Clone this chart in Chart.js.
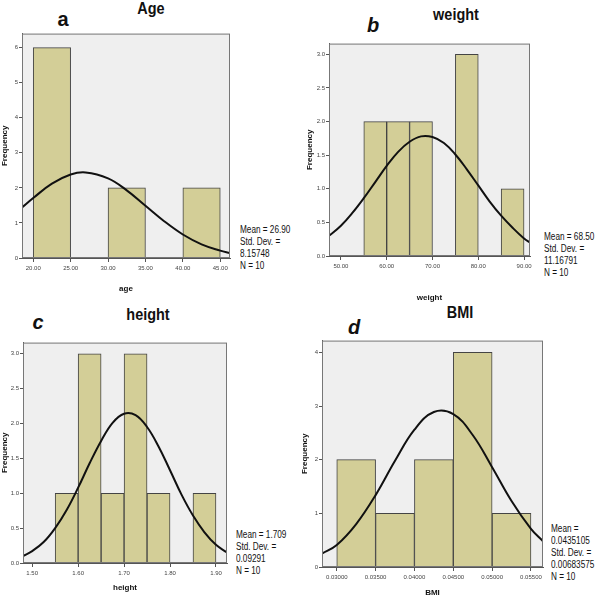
<!DOCTYPE html>
<html>
<head>
<meta charset="utf-8">
<script src="https://cdn.jsdelivr.net/npm/chart.js@4"></script>
<style>
  body { margin: 0; background: #fff; width: 600px; height: 598px; position: relative; overflow: hidden; }
  canvas { position: absolute; }
  .ttl { position: absolute; font: bold 17px "Liberation Sans", sans-serif; transform: translate(-50%, -50%) scaleX(0.85); color: #111; }
  .let { position: absolute; font: italic bold 20px "Liberation Sans", sans-serif; transform: translate(-50%, -50%); color: #111; }
  .stats { position: absolute; font: 10px/12px "Liberation Sans", sans-serif; color: #111; white-space: nowrap; transform: scaleX(0.82); transform-origin: left top; }
</style>
</head>
<body>
<div class="ttl" style="left:151px;top:9px">Age</div>
<div class="let" style="left:63px;top:19px;font-style:normal">a</div>
<div class="ttl" style="left:456px;top:15px">weight</div>
<div class="let" style="left:373px;top:25px">b</div>
<div class="ttl" style="left:148px;top:315px">height</div>
<div class="let" style="left:38px;top:322px">c</div>
<div class="ttl" style="left:460px;top:313px">BMI</div>
<div class="let" style="left:354px;top:327px">d</div>

<div class="stats" style="left:240px;top:224px">Mean = 26.90<br>Std. Dev. =<br>8.15748<br>N = 10</div>
<div class="stats" style="left:544px;top:231px">Mean = 68.50<br>Std. Dev. =<br>11.16791<br>N = 10</div>
<div class="stats" style="left:236px;top:529px">Mean = 1.709<br>Std. Dev. =<br>0.09291<br>N = 10</div>
<div class="stats" style="left:551px;top:523px">Mean =<br>0.0435105<br>Std. Dev. =<br>0.00683575<br>N = 10</div>

<canvas id="age" width="238" height="265" style="left:0px;top:29px"></canvas>
<canvas id="weight" width="235" height="264" style="left:305px;top:39px"></canvas>
<canvas id="height" width="237" height="255" style="left:0px;top:338px"></canvas>
<canvas id="bmi" width="253" height="262" style="left:300px;top:336px"></canvas>

<script>
// histogram bins (midpoints) and counts, plus normal curve
const ageBins = [22.5, 27.5, 32.5, 37.5, 42.5];
const ageCounts = [6, 0, 2, 0, 2];
const ageCurveX = [18.5, 20, 22.5, 25, 27, 30, 32.5, 35, 37.5, 40, 42.5, 45, 46.3];
const ageCurveY = [1.44, 1.71, 2.12, 2.38, 2.44, 2.27, 1.93, 1.49, 1.05, 0.67, 0.39, 0.21, 0.14];

const weightBins = [57.5, 62.5, 67.5, 72.5, 77.5, 82.5, 87.5];
const weightCounts = [2, 2, 2, 0, 3, 0, 1];
const weightCurveX = [47.4, 50, 52.5, 55, 57.5, 60, 62.5, 65, 67.5, 70, 72.5, 75, 77.5, 80, 82.5, 85, 87.5, 90, 91.3];
const weightCurveY = [0.30, 0.45, 0.64, 0.86, 1.10, 1.34, 1.55, 1.70, 1.78, 1.77, 1.68, 1.51, 1.29, 1.05, 0.81, 0.60, 0.42, 0.26, 0.20];

const heightBins = [1.575, 1.625, 1.675, 1.725, 1.775, 1.825, 1.875];
const heightCounts = [1, 3, 1, 3, 1, 0, 1];
const heightCurveX = [1.48, 1.50, 1.525, 1.55, 1.575, 1.60, 1.625, 1.65, 1.675, 1.70, 1.725, 1.75, 1.775, 1.80, 1.825, 1.85, 1.875, 1.90, 1.924];
const heightCurveY = [0.10, 0.17, 0.30, 0.50, 0.76, 1.08, 1.43, 1.75, 2.01, 2.14, 2.12, 1.95, 1.67, 1.33, 0.98, 0.68, 0.44, 0.26, 0.15];

const bmiBins = [0.0325, 0.0375, 0.0425, 0.0475, 0.0525];
const bmiCounts = [2, 1, 2, 4, 1];
const bmiCurveX = [0.0281, 0.030, 0.0325, 0.035, 0.0375, 0.040, 0.0425, 0.045, 0.0475, 0.050, 0.0525, 0.055, 0.05655];
const bmiCurveY = [0.25, 0.41, 0.80, 1.34, 1.98, 2.56, 2.89, 2.85, 2.46, 1.86, 1.23, 0.71, 0.48];

const frame = {
  id: 'frame',
  beforeDraw(c) {
    const a = c.chartArea, ctx = c.ctx;
    ctx.save();
    ctx.fillStyle = '#efefef';
    ctx.fillRect(a.left, a.top, a.right - a.left, a.bottom - a.top);
    ctx.restore();
  },
  afterDraw(c) {
    const a = c.chartArea, ctx = c.ctx;
    ctx.save();
    ctx.strokeStyle = '#777';
    ctx.lineWidth = 1;
    ctx.strokeRect(a.left + 0.5, a.top + 0.5, a.right - a.left - 1, a.bottom - a.top - 1);
    ctx.restore();
  }
};

function makePanel(id, p) {
  const pts = (xs, ys) => xs.map((x, i) => ({ x, y: ys[i] }));
  new Chart(document.getElementById(id), {
    type: 'bar',
    data: {
      datasets: [
        {
          type: 'line',
          data: pts(p.curveX, p.curveY),
          borderColor: '#111',
          borderWidth: 2,
          pointRadius: 0,
          tension: 0.4,
          order: 0
        },
        {
          type: 'bar',
          data: pts(p.bins, p.counts),
          backgroundColor: '#d3ce97',
          borderColor: '#444',
          borderWidth: 1,
          barPercentage: 1,
          categoryPercentage: 1,
          order: 1
        }
      ]
    },
    options: {
      responsive: false,
      animation: false,
      layout: { padding: { left: 0, right: p.padRight, top: 0, bottom: 0 } },
      plugins: { legend: { display: false }, tooltip: { enabled: false } },
      scales: {
        x: {
          type: 'linear',
          offset: false,
          min: p.xMin, max: p.xMax,
          grid: { display: true, offset: false, drawOnChartArea: false, drawTicks: true, tickLength: 4, color: '#555' },
          border: { display: true, color: '#555' },
          ticks: {
            stepSize: p.xStep, includeBounds: false, autoSkip: false, maxRotation: 0,
            font: { family: 'Liberation Sans', size: 6 }, color: '#444', padding: 3,
            callback: v => v.toFixed(p.xDec)
          },
          title: { display: true, text: p.xTitle, font: { family: 'Liberation Sans', size: 8, weight: 'bold' }, color: '#111', padding: { top: 6, bottom: 0 } },
          afterFit: s => { s.height = p.xH; }
        },
        y: {
          min: 0, max: p.yMax,
          grid: { display: true, drawOnChartArea: false, drawTicks: true, tickLength: 3, color: '#555' },
          border: { display: true, color: '#555' },
          ticks: {
            stepSize: p.yStep, includeBounds: false,
            font: { family: 'Liberation Sans', size: 6 }, color: '#444', padding: 1,
            callback: v => v.toFixed(p.yDec)
          },
          title: { display: true, text: 'Frequency', font: { family: 'Liberation Sans', size: 8, weight: 'bold' }, color: '#111', padding: 0 },
          afterFit: s => { s.width = p.yW; }
        }
      }
    },
    plugins: [frame]
  });
}

makePanel('age', {
  bins: ageBins, counts: ageCounts, curveX: ageCurveX, curveY: ageCurveY,
  xMin: 18.5, xMax: 46.3, xStep: 5, xDec: 2, xTitle: 'age',
  yMax: 6.4, yStep: 1, yDec: 0, yW: 22, xH: 36, padRight: 8
});
makePanel('weight', {
  bins: weightBins, counts: weightCounts, curveX: weightCurveX, curveY: weightCurveY,
  xMin: 47.4, xMax: 91.3, xStep: 10, xDec: 2, xTitle: 'weight',
  yMax: 3.16, yStep: 0.5, yDec: 1, yW: 24, xH: 47, padRight: 10
});
makePanel('height', {
  bins: heightBins, counts: heightCounts, curveX: heightCurveX, curveY: heightCurveY,
  xMin: 1.48, xMax: 1.924, xStep: 0.1, xDec: 2, xTitle: 'height',
  yMax: 3.16, yStep: 0.5, yDec: 1, yW: 23, xH: 30, padRight: 10
});
makePanel('bmi', {
  bins: bmiBins, counts: bmiCounts, curveX: bmiCurveX, curveY: bmiCurveY,
  xMin: 0.0281, xMax: 0.05655, xStep: 0.005, xDec: 5, xTitle: 'BMI',
  yMax: 4.22, yStep: 1, yDec: 0, yW: 22, xH: 31, padRight: 10
});
</script>
</body>
</html>
